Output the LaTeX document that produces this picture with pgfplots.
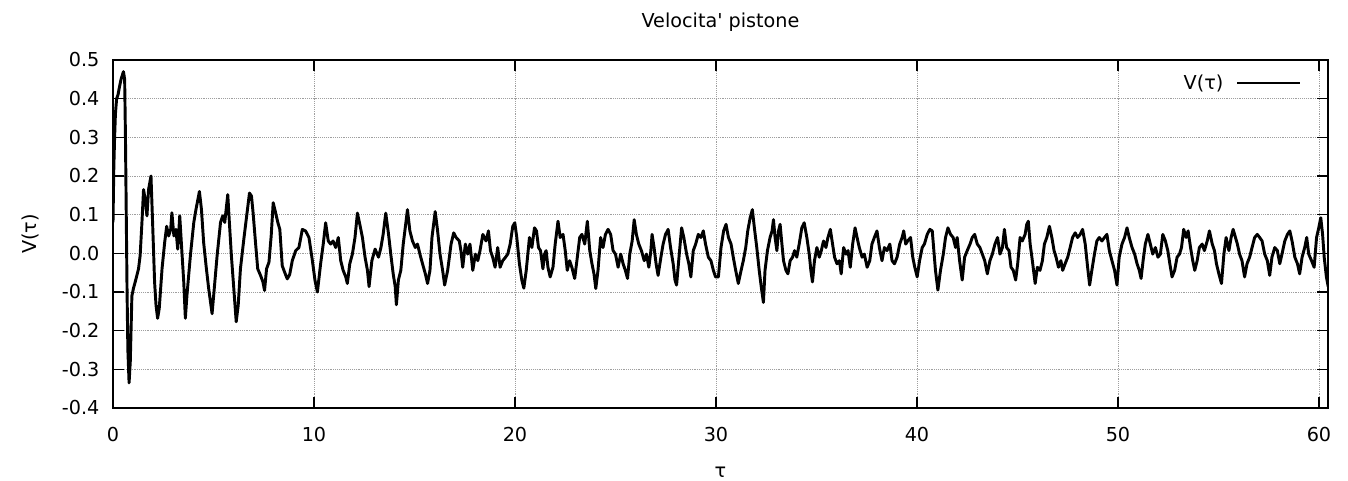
\documentclass[border=0pt]{standalone}
\usepackage{fontspec}
\setmainfont{DejaVu Sans}
\newfontfamily\qfont{DejaVu Sans}
\usepackage{pgfplots}
\usepackage{pgfplotstable}
\pgfplotsset{compat=1.18}

\newcommand{\gfont}{\fontsize{14.4}{17.3}\selectfont}

% velocita' del pistone
\pgfplotstableread{
t v
0.00 0.08
0.04 0.22
0.08 0.30
0.12 0.36
0.18 0.40
0.25 0.41
0.32 0.43
0.40 0.45
0.46 0.46
0.52 0.47
0.58 0.45
0.62 0.30
0.66 0.10
0.70 -0.10
0.74 -0.25
0.80 -0.335
0.86 -0.28
0.94 -0.11
1.02 -0.09
1.10 -0.075
1.27 -0.04
1.35 -0.006
1.44 0.08
1.52 0.165
1.60 0.14
1.69 0.097
1.77 0.165
1.89 0.20
1.97 0.08
2.07 -0.075
2.14 -0.134
2.22 -0.168
2.30 -0.143
2.44 -0.04
2.57 0.028
2.67 0.07
2.77 0.045
2.87 0.062
2.93 0.105
3.03 0.045
3.13 0.062
3.22 0.011
3.32 0.097
3.40 0.028
3.52 -0.074
3.60 -0.168
3.68 -0.108
3.85 -0.006
4.02 0.08
4.13 0.114
4.30 0.16
4.40 0.114
4.51 0.028
4.63 -0.032
4.76 -0.091
4.93 -0.156
5.01 -0.108
5.18 -0.006
5.35 0.08
5.46 0.097
5.56 0.08
5.71 0.152
5.79 0.08
5.89 -0.006
6.01 -0.091
6.13 -0.177
6.23 -0.134
6.34 -0.04
6.51 0.037
6.67 0.105
6.79 0.156
6.89 0.148
6.97 0.105
7.09 0.028
7.20 -0.04
7.34 -0.057
7.46 -0.074
7.54 -0.096
7.64 -0.04
7.76 -0.023
7.87 0.045
7.97 0.131
8.09 0.105
8.20 0.08
8.30 0.062
8.42 -0.032
8.54 -0.049
8.67 -0.066
8.79 -0.055
8.92 -0.019
9.09 0.007
9.25 0.015
9.42 0.062
9.58 0.058
9.75 0.041
9.92 -0.019
10.05 -0.07
10.17 -0.10
10.33 -0.027
10.46 0.024
10.58 0.079
10.71 0.032
10.83 0.024
10.95 0.032
11.08 0.015
11.21 0.041
11.33 -0.019
11.45 -0.044
11.58 -0.061
11.66 -0.078
11.78 -0.027
11.91 -0.002
12.04 0.041
12.16 0.104
12.28 0.075
12.41 0.041
12.54 -0.01
12.66 -0.044
12.74 -0.086
12.88 -0.019
13.04 0.011
13.21 -0.01
13.33 0.015
13.44 0.049
13.57 0.104
13.71 0.049
13.82 -0.002
13.94 -0.053
14.04 -0.086
14.10 -0.133
14.20 -0.069
14.32 -0.044
14.44 0.024
14.54 0.066
14.65 0.113
14.77 0.058
14.90 0.032
15.04 0.015
15.15 0.024
15.27 -0.002
15.40 -0.027
15.54 -0.053
15.65 -0.078
15.77 -0.044
15.87 0.041
16.03 0.108
16.15 0.058
16.27 -0.002
16.40 -0.044
16.50 -0.082
16.65 -0.044
16.82 0.024
16.95 0.053
17.07 0.041
17.23 0.032
17.31 0.007
17.40 -0.036
17.53 0.024
17.65 -0.002
17.76 0.024
17.90 -0.044
18.03 -0.002
18.15 -0.019
18.26 0.007
18.40 0.049
18.56 0.032
18.68 0.058
18.78 0.007
18.89 -0.01
19.01 -0.036
19.14 0.015
19.26 -0.036
19.39 -0.019
19.53 -0.01
19.64 -0.002
19.76 0.024
19.89 0.07
19.99 0.079
20.09 0.041
20.22 -0.027
20.34 -0.069
20.44 -0.09
20.56 -0.044
20.72 0.041
20.84 0.015
20.97 0.066
21.07 0.058
21.17 0.015
21.27 0.007
21.39 -0.04
21.47 -0.002
21.55 0.007
21.64 -0.036
21.75 -0.061
21.89 -0.036
22.00 0.024
22.14 0.083
22.25 0.041
22.39 0.049
22.50 0.007
22.60 -0.044
22.72 -0.019
22.83 -0.036
22.97 -0.065
23.08 -0.019
23.22 0.041
23.33 0.049
23.47 0.024
23.60 0.083
23.72 0.007
23.83 -0.027
23.93 -0.053
24.02 -0.091
24.13 -0.044
24.26 0.041
24.38 0.015
24.50 0.049
24.63 0.062
24.76 0.049
24.88 0.007
25.00 -0.002
25.13 -0.036
25.26 -0.002
25.38 -0.027
25.49 -0.044
25.60 -0.065
25.71 -0.002
25.83 0.032
25.93 0.087
26.04 0.049
26.16 0.024
26.29 0.007
26.43 -0.019
26.54 -0.002
26.66 -0.036
26.76 0.007
26.82 0.049
26.92 0.015
27.02 -0.027
27.12 -0.057
27.26 -0.01
27.37 0.024
27.49 0.049
27.62 0.062
27.74 0.015
27.87 -0.027
27.96 -0.069
28.04 -0.082
28.16 -0.01
28.29 0.066
28.40 0.041
28.54 -0.002
28.65 -0.027
28.75 -0.061
28.87 0.007
28.99 0.024
29.12 0.049
29.25 0.041
29.37 0.058
29.48 0.024
29.62 -0.01
29.75 -0.019
29.87 -0.044
29.98 -0.061
30.12 -0.061
30.25 0.015
30.38 0.058
30.50 0.075
30.62 0.041
30.75 0.024
30.86 -0.01
30.98 -0.044
31.11 -0.078
31.25 -0.044
31.36 -0.019
31.48 0.015
31.58 0.058
31.70 0.092
31.81 0.113
31.91 0.066
32.03 0.015
32.15 -0.044
32.25 -0.086
32.36 -0.127
32.44 -0.044
32.56 0.007
32.69 0.041
32.79 0.058
32.86 0.087
32.94 0.041
33.03 0.007
33.11 0.058
33.19 0.075
33.28 0.024
33.36 -0.019
33.48 -0.044
33.58 -0.053
33.69 -0.019
33.81 -0.01
33.91 0.007
34.02 -0.01
34.14 0.024
34.27 0.066
34.39 0.079
34.52 0.041
34.64 -0.002
34.72 -0.044
34.80 -0.074
34.90 -0.019
35.02 0.015
35.14 -0.01
35.24 0.007
35.35 0.032
35.47 0.015
35.57 0.041
35.69 0.062
35.80 0.024
35.90 -0.01
36.02 -0.027
36.14 -0.019
36.23 -0.053
36.35 0.015
36.47 -0.002
36.57 0.007
36.68 -0.036
36.80 0.024
36.92 0.066
37.02 0.041
37.13 0.015
37.27 -0.01
37.38 -0.002
37.52 -0.036
37.65 -0.019
37.76 0.024
37.88 0.041
38.01 0.058
38.13 0.015
38.26 -0.019
38.38 0.015
38.51 0.007
38.65 0.024
38.76 -0.019
38.88 -0.027
39.01 -0.01
39.14 0.024
39.26 0.041
39.34 0.058
39.44 0.024
39.54 0.032
39.68 0.041
39.79 -0.01
39.89 -0.036
40.01 -0.061
40.13 -0.019
40.26 0.015
40.37 0.024
40.51 0.049
40.64 0.062
40.76 0.058
40.84 0.007
40.92 -0.044
41.04 -0.095
41.17 -0.044
41.31 -0.002
41.42 0.041
41.54 0.066
41.67 0.049
41.80 0.041
41.92 0.015
42.00 0.041
42.12 -0.019
42.25 -0.069
42.37 -0.01
42.50 0.007
42.64 0.024
42.75 0.041
42.87 0.049
43.00 0.024
43.13 0.015
43.25 -0.002
43.37 -0.019
43.50 -0.053
43.63 -0.019
43.75 -0.002
43.88 0.024
44.01 0.041
44.13 -0.002
44.25 0.015
44.35 0.062
44.46 0.015
44.58 0.007
44.68 -0.036
44.79 -0.044
44.91 -0.069
45.01 -0.027
45.13 0.041
45.24 0.032
45.38 0.049
45.46 0.075
45.54 0.083
45.63 0.024
45.74 -0.019
45.88 -0.078
45.99 -0.036
46.12 -0.044
46.24 -0.019
46.34 0.024
46.46 0.041
46.59 0.07
46.71 0.041
46.82 0.007
46.92 -0.01
47.04 -0.036
47.16 -0.019
47.25 -0.044
47.37 -0.027
47.50 -0.01
47.62 0.015
47.74 0.041
47.87 0.053
47.99 0.041
48.12 0.049
48.24 0.062
48.37 0.024
48.49 -0.036
48.59 -0.082
48.70 -0.044
48.83 -0.002
48.95 0.032
49.07 0.041
49.20 0.032
49.33 0.041
49.45 0.049
49.57 0.007
49.70 -0.019
49.83 -0.044
49.95 -0.082
50.06 -0.01
50.20 0.024
50.33 0.041
50.45 0.066
50.56 0.041
50.70 0.015
50.83 -0.002
50.95 -0.027
51.06 -0.044
51.15 -0.065
51.25 -0.019
51.36 0.024
51.49 0.049
51.61 0.024
51.73 -0.002
51.86 0.015
51.99 -0.01
52.11 -0.002
52.23 0.049
52.36 0.032
52.48 0.007
52.58 -0.027
52.69 -0.061
52.82 -0.044
52.94 -0.01
53.06 -0.002
53.16 0.015
53.27 0.062
53.39 0.041
53.49 0.058
53.61 0.015
53.72 -0.019
53.82 -0.044
53.94 -0.019
54.05 0.015
54.19 0.024
54.30 0.007
54.44 0.032
54.55 0.058
54.69 0.024
54.80 0.007
54.90 -0.027
55.02 -0.053
55.15 -0.078
55.27 -0.002
55.38 0.041
55.52 0.007
55.63 0.041
55.73 0.062
55.94 0.024
56.05 -0.002
56.17 -0.019
56.30 -0.061
56.42 -0.027
56.55 -0.01
56.67 0.015
56.80 0.041
56.93 0.049
57.05 0.041
57.17 0.032
57.30 -0.002
57.43 -0.019
57.55 -0.057
57.66 -0.01
57.80 0.015
57.93 0.007
58.05 -0.027
58.16 -0.002
58.30 0.032
58.43 0.049
58.55 0.058
58.66 0.032
58.80 -0.01
58.93 -0.027
59.04 -0.053
59.16 -0.01
59.29 0.015
59.39 0.041
59.49 -0.002
59.63 -0.019
59.76 -0.036
59.88 0.041
59.99 0.066
60.09 0.092
60.18 0.049
60.26 -0.01
60.37 -0.061
60.46 -0.086
}\vel

\begin{document}
\begin{tikzpicture}[font=\gfont]
  \useasboundingbox (-84.75pt,-54pt) rectangle (926.25pt,306pt);
  \begin{axis}[
    at={(0,0)}, anchor=south west,
    scale only axis,
    width=911.25pt, height=261pt,
    xmin=0, xmax=60.45,
    ymin=-0.4, ymax=0.5,
    xtick={0,10,20,30,40,50,60},
    ytick={-0.4,-0.3,-0.2,-0.1,0,0.1,0.2,0.3,0.4,0.5},
    /pgf/number format/assume math mode=true,
    tick label style={font=\gfont, inner sep=0pt},
    xticklabel style={yshift=-14pt},
    yticklabel style={xshift=-10pt,
      /pgf/number format/fixed,
      /pgf/number format/fixed zerofill,
      /pgf/number format/precision=1},
    tick align=inside,
    xtick pos=both, ytick pos=both,
    major tick length=8pt,
    major tick style={black, line width=0.9pt},
    axis line style={black, line width=1.1pt},
    grid=major,
    grid style={densely dotted, gray!75, line width=0.5pt},
    title={\qfont Velocita' pistone},
    title style={font=\gfont, at={(axis description cs:0.5,1)}, anchor=base, yshift=18.75pt, inner sep=0pt},
    xlabel={τ},
    xlabel style={font=\gfont, at={(axis description cs:0.5,0)}, anchor=base, yshift=-52pt, inner sep=0pt},
    ylabel={V(τ)},
    ylabel style={font=\gfont, at={(axis description cs:-0.068,0.5)}, anchor=center, inner sep=0pt},
    legend plot pos=right,
    legend image code/.code={\draw[black, line width=1.1pt] (0pt,0pt) -- (47pt,0pt);},
    legend style={font=\gfont, draw=none, fill=none, inner sep=0pt,
      at={(0.9778,0.934)}, anchor=east, column sep=10pt,
      nodes={inner sep=0pt}},
  ]
    \addplot[black, line width=2.2pt, line join=round] table[x=t, y=v] {\vel};
    \addlegendentry{V(τ)}
  \end{axis}
\end{tikzpicture}
\end{document}
